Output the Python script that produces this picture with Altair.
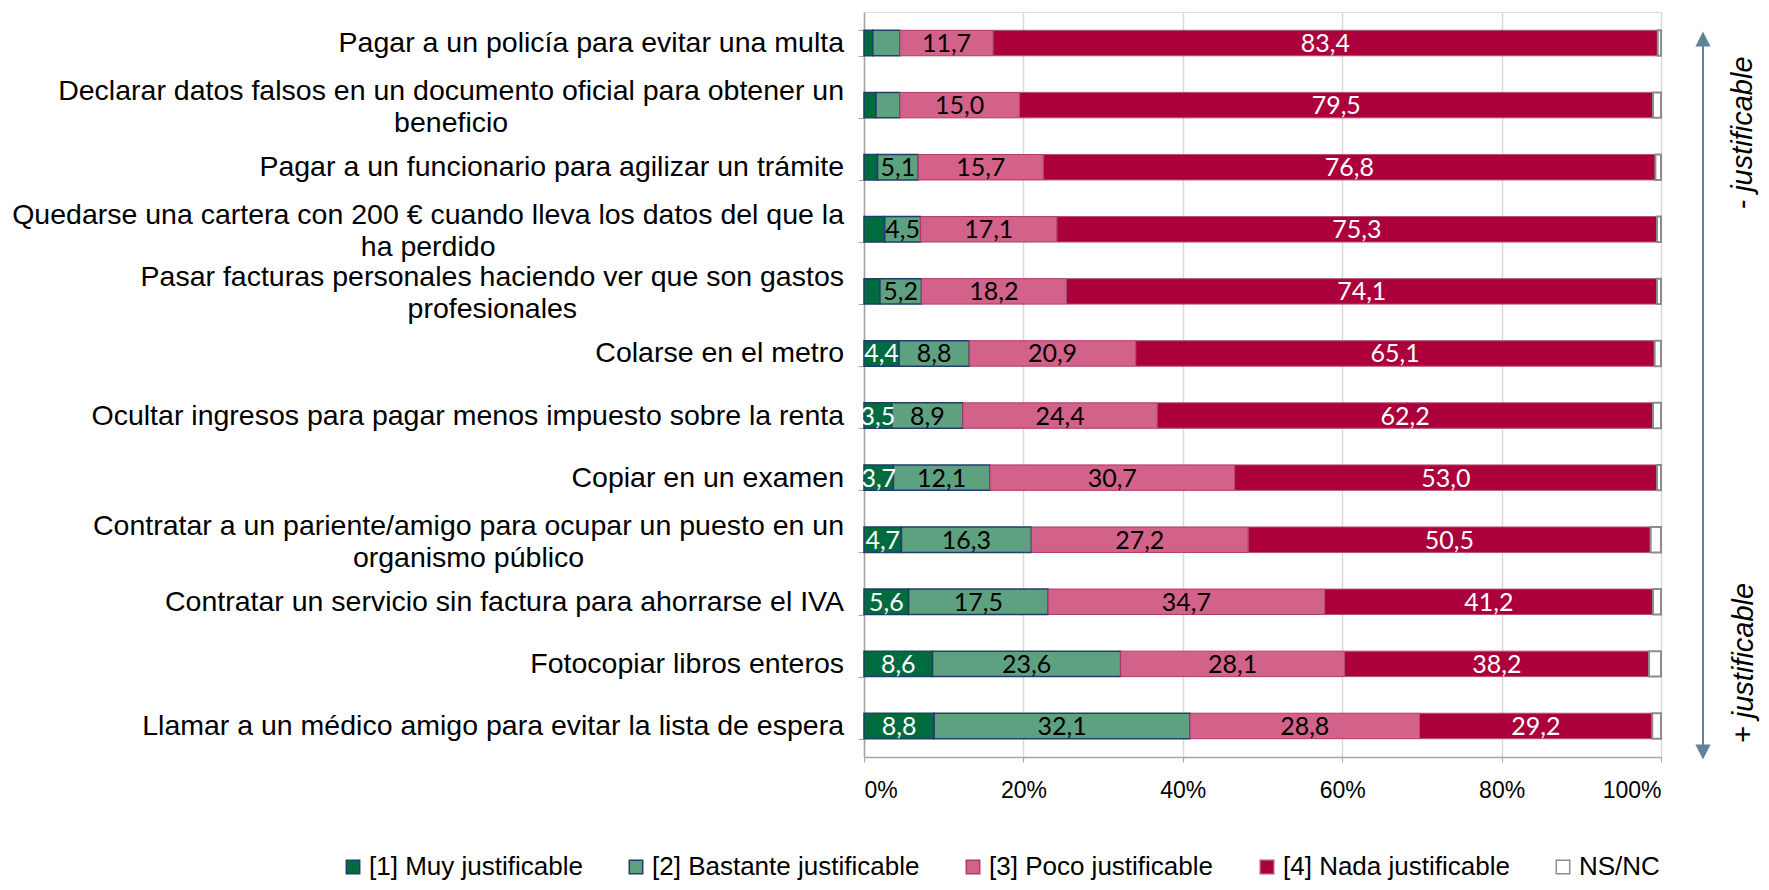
import altair as alt
import pandas as pd

# ---------------- data ----------------
categories = [
    "Pagar a un policía para evitar una multa",
    "Declarar datos falsos en un documento oficial para obtener un\nbeneficio",
    "Pagar a un funcionario para agilizar un trámite",
    "Quedarse una cartera con 200 € cuando lleva los datos del que la\nha perdido",
    "Pasar facturas personales haciendo ver que son gastos\nprofesionales",
    "Colarse en el metro",
    "Ocultar ingresos para pagar menos impuesto sobre la renta",
    "Copiar en un examen",
    "Contratar a un pariente/amigo para ocupar un puesto en un\norganismo público",
    "Contratar un servicio sin factura para ahorrarse el IVA",
    "Fotocopiar libros enteros",
    "Llamar a un médico amigo para evitar la lista de espera",
]
series = ["[1] Muy justificable", "[2] Bastante justificable",
          "[3] Poco justificable", "[4] Nada justificable", "NS/NC"]
muy = [1.1, 1.5, 1.7, 2.6, 2.0, 4.4, 3.5, 3.7, 4.7, 5.6, 8.6, 8.8]
bastante = [3.4, 3.0, 5.1, 4.5, 5.2, 8.8, 8.9, 12.1, 16.3, 17.5, 23.6, 32.1]
poco = [11.7, 15.0, 15.7, 17.1, 18.2, 20.9, 24.4, 30.7, 27.2, 34.7, 28.1, 28.8]
nada = [83.4, 79.5, 76.8, 75.3, 74.1, 65.1, 62.2, 53.0, 50.5, 41.2, 38.2, 29.2]
nsnc = [0.4, 1.0, 0.7, 0.5, 0.5, 0.8, 1.0, 0.5, 1.3, 1.0, 1.5, 1.1]
x_ticks = [0, 20, 40, 60, 80, 100]
side_top = "- justificable"
side_bottom = "+ justificable"

# ---------------- styles ----------------
fills = ["#006B3F", "#5EA181", "#D2628A", "#AB003C", "#FFFFFF"]
strokes = ["#1F3E6B", "#1F3E6B", "#B03A66", "#B4506F", "#8C8C8C"]
stroke_w = [1.5, 1.5, 1.0, 1.0, 2.0]
text_cols = ["white", "black", "black", "white", "black"]
arrow_col = "#5E8298"
LABEL_FONT = "Liberation Sans"
LABEL_SIZE = 28.5
LABEL_GAP = 20      # px between label right edge and the axis

# Arial / Liberation Sans advance widths (1/1000 em), used to centre the
# second line of wrapped category labels under the first (Excel style)
AW = {" ": 278, ",": 278, ".": 278, "/": 278, "€": 556,
      "a": 556, "b": 556, "c": 500, "d": 556, "e": 556, "f": 278, "g": 556,
      "h": 556, "i": 222, "j": 222, "k": 500, "l": 222, "m": 833, "n": 556,
      "o": 556, "p": 556, "q": 556, "r": 333, "s": 500, "t": 278, "u": 556,
      "v": 500, "w": 722, "x": 500, "y": 500, "z": 500, "á": 556, "é": 556,
      "í": 278, "ó": 556, "ú": 556, "ñ": 556, "A": 667, "B": 667, "C": 722,
      "D": 722, "E": 667, "F": 611, "I": 278, "L": 556, "P": 667, "Q": 778,
      "V": 667}


def tw(s):
    return sum(AW.get(ch, 556) for ch in s) * LABEL_SIZE / 1000.0


rows = []
vals = [muy, bastante, poco, nada, nsnc]
for i, cat in enumerate(categories):
    for k, s in enumerate(series):
        v = vals[k][i]
        rows.append({"cat": cat, "resp": s, "order": k, "value": v,
                     "sw": stroke_w[k], "tcol": text_cols[k],
                     "show": bool((k < 4) and (v >= 3.5))})
df = pd.DataFrame(rows)

lab_rows = []
for cat in categories:
    parts = cat.split("\n")
    l1 = parts[0]
    l2 = parts[1] if len(parts) > 1 else ""
    lab_rows.append({"cat": cat, "l1": l1, "l2": l2, "two": len(parts) > 1,
                     "cx": -LABEL_GAP - tw(l1) / 2.0})
lab_df = pd.DataFrame(lab_rows)

W, H = 797, 745

base = alt.Chart(df).transform_stack(
    stack="value", groupby=["cat"], sort=[alt.SortField("order")],
    as_=["x0", "x1"]
).transform_calculate(
    mid="(datum.x0 + datum.x1) / 2",
    lab="replace(format(datum.value, '.1f'), '.', ',')"
)

yenc = alt.Y(
    "cat:N", sort=categories,
    scale=alt.Scale(paddingInner=0.59, paddingOuter=0.295),
    axis=alt.Axis(
        title=None, labels=False,
        tickBand="extent", tickSize=6, tickColor="#A6A6A6",
        domainColor="#A6A6A6", domainWidth=1.5, grid=False,
    ),
)
xscale = alt.Scale(domain=[0, 100], nice=False, zero=True)

legend = alt.Legend(
    title=None, orient="none", legendX=-524, legendY=842,
    direction="horizontal", symbolType="square", symbolSize=180,
    symbolStrokeWidth=1.5, labelFont=LABEL_FONT, labelFontSize=26,
    labelColor="#000000", labelLimit=600, columnPadding=40, labelOffset=3,
    padding=0,
)

bars = base.mark_bar().encode(
    y=yenc,
    x=alt.X("x0:Q", scale=xscale, axis=alt.Axis(
        title=None, values=x_ticks, labelExpr="datum.value + '%'",
        labelFont=LABEL_FONT, labelFontSize=23, labelColor="#000000",
        labelPadding=17, tickSize=5, tickColor="#A6A6A6",
        domainColor="#A6A6A6", domainWidth=1.5,
        grid=True, gridColor="#D9D9D9", gridWidth=1.5,
    )),
    x2="x1:Q",
    fill=alt.Fill("resp:N", scale=alt.Scale(domain=series, range=fills),
                  legend=legend, sort=series),
    stroke=alt.Stroke("resp:N", scale=alt.Scale(domain=series, range=strokes),
                      legend=legend, sort=series),
    strokeWidth=alt.StrokeWidth("sw:Q", scale=None),
)

labels = base.transform_filter("datum.show").mark_text(
    font="Lato", fontSize=25, baseline="middle", align="center", dy=1
).encode(
    y=alt.Y("cat:N", sort=categories),
    x=alt.X("mid:Q", scale=xscale),
    text="lab:N",
    color=alt.Color("tcol:N", scale=None),
)

lab_base = alt.Chart(lab_df)
cat_single = lab_base.transform_filter("!datum.two").mark_text(
    font=LABEL_FONT, fontSize=LABEL_SIZE, align="right", baseline="middle",
    color="#000000"
).encode(y=alt.Y("cat:N", sort=categories), x=alt.value(-LABEL_GAP),
         text="l1:N")

cat_first = lab_base.transform_filter("datum.two").mark_text(
    font=LABEL_FONT, fontSize=LABEL_SIZE, align="right",
    baseline="line-bottom", lineHeight=32, dy=3, color="#000000"
).encode(y=alt.Y("cat:N", sort=categories), x=alt.value(-LABEL_GAP),
         text="l1:N")

cat_second = lab_base.transform_filter("datum.two").mark_text(
    font=LABEL_FONT, fontSize=LABEL_SIZE, align="center",
    baseline="line-top", lineHeight=32, dy=3, color="#000000"
).encode(y=alt.Y("cat:N", sort=categories),
         x=alt.X("cx:Q", scale=None), text="l2:N")

one = pd.DataFrame({"a": [0]})
annot_base = alt.Chart(one)
arrow_x = 839
arrow_line = annot_base.mark_rule(color=arrow_col, strokeWidth=2).encode(
    x=alt.value(arrow_x), y=alt.value(30), y2=alt.value(740))
arrow_up = annot_base.mark_point(
    shape="M-1,1L0,-1L1,1Z", filled=True, size=230, color=arrow_col, opacity=1
).encode(x=alt.value(arrow_x), y=alt.value(27))
arrow_down = annot_base.mark_point(
    shape="M-1,-1L0,1L1,-1Z", filled=True, size=230, color=arrow_col, opacity=1
).encode(x=alt.value(arrow_x), y=alt.value(740))
txt_top = annot_base.mark_text(
    angle=270, font=LABEL_FONT, fontStyle="italic", fontSize=29,
    align="center", baseline="middle", color="#000000"
).encode(x=alt.value(879), y=alt.value(121), text=alt.value(side_top))
txt_bot = annot_base.mark_text(
    angle=270, font=LABEL_FONT, fontStyle="italic", fontSize=29,
    align="center", baseline="middle", color="#000000"
).encode(x=alt.value(880), y=alt.value(651), text=alt.value(side_bottom))

chart = alt.layer(
    bars, labels, cat_single, cat_first, cat_second,
    arrow_line, arrow_up, arrow_down, txt_top, txt_bot
).properties(
    width=W, height=H,
    autosize=alt.AutoSizeParams(type="none"),
    padding={"left": 856, "top": 4, "right": 100, "bottom": 125},
).configure_view(stroke=None).configure(background="white")

chart.save("out.html", embed_options={"renderer": "svg", "actions": False})
